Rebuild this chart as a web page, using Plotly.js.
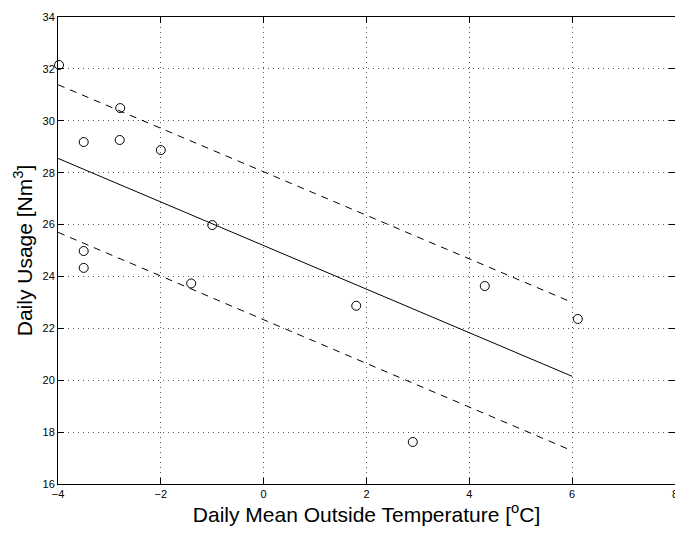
<!DOCTYPE html>
<html>
<head>
<meta charset="utf-8">
<script src="https://cdn.plot.ly/plotly-3.0.1.min.js"></script>
<style>
html,body{margin:0;padding:0;background:#fff;}
#chart{width:675px;height:534px;}
</style>
</head>
<body>
<div id="chart"></div>
<script>
// Observed data
var tempX = [-3.98, -2.79, -3.50, -2.80, -2.00, -1.00, -3.50, -3.50, -1.41, 1.80, 4.30, 6.11, 2.90];
var usage = [32.15, 30.49, 29.18, 29.26, 28.87, 25.98, 24.98, 24.33, 23.73, 22.87, 23.63, 22.36, 17.62];

// Regression line and bounds
var fitX = [-4, 6];
var fitY = [28.55, 20.15];
var upperY = [31.39, 23.00];
var lowerY = [25.70, 17.28];

var xTicks = [-4, -2, 0, 2, 4, 6, 8];
var xTickText = ['\u22124', '\u22122', '0', '2', '4', '6', '8'];
var yTicks = [16, 18, 20, 22, 24, 26, 28, 30, 32, 34];

var traces = [
  {x: fitX, y: upperY, mode: 'lines', type: 'scatter',
   line: {color: '#000', width: 1, dash: '7px,6px'}, hoverinfo: 'skip'},
  {x: fitX, y: lowerY, mode: 'lines', type: 'scatter',
   line: {color: '#000', width: 1, dash: '7px,6px'}, hoverinfo: 'skip'},
  {x: fitX, y: fitY, mode: 'lines', type: 'scatter',
   line: {color: '#000', width: 1}, hoverinfo: 'skip'},
  {x: tempX, y: usage, mode: 'markers', type: 'scatter', cliponaxis: false,
   marker: {symbol: 'circle-open', size: 9, color: '#000', line: {width: 1, color: '#000'}}}
];

var axisCommon = {
  showline: true, linecolor: '#000', linewidth: 1, mirror: 'ticks',
  ticks: 'inside', ticklen: 6, tickwidth: 1, tickcolor: '#000',
  showgrid: true, gridcolor: '#555', gridwidth: 1, griddash: '1px,4px',
  zeroline: false, ticklabeloverflow: 'allow',
  tickfont: {family: 'Liberation Sans, Arial, sans-serif', size: 11, color: '#000'}
};

var layout = {
  width: 675, height: 534,
  margin: {l: 58, r: 0, t: 17, b: 50},
  paper_bgcolor: '#fff', plot_bgcolor: '#fff',
  showlegend: false,
  xaxis: Object.assign({}, axisCommon, {
    range: [-4, 8], tickvals: xTicks, ticktext: xTickText,
    title: {text: 'Daily Mean Outside Temperature [<sup>o</sup>C]', standoff: 7,
            font: {family: 'Liberation Sans, Arial, sans-serif', size: 21, color: '#000'}}
  }),
  yaxis: Object.assign({}, axisCommon, {
    range: [16, 34], tickvals: yTicks,
    title: {text: 'Daily Usage [Nm<sup>3</sup>]', standoff: 4,
            font: {family: 'Liberation Sans, Arial, sans-serif', size: 21, color: '#000'}}
  })
};

Plotly.newPlot('chart', traces, layout, {displayModeBar: false, staticPlot: true});
</script>
</body>
</html>
